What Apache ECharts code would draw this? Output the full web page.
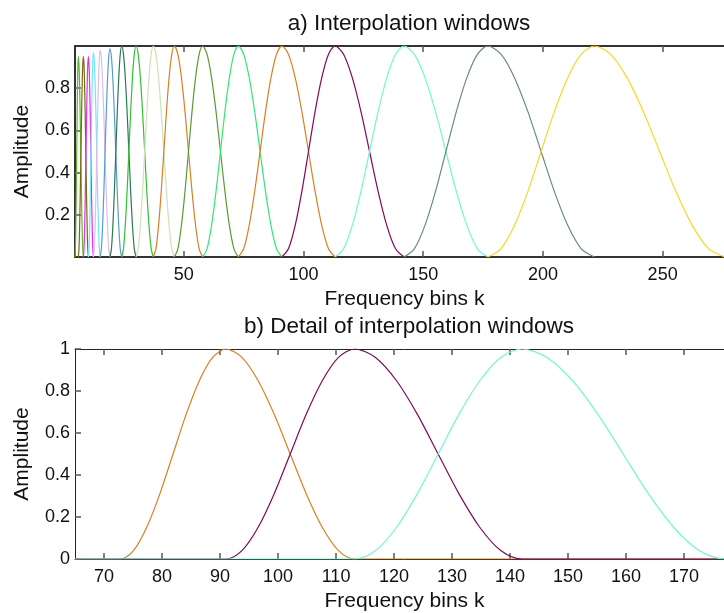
<!DOCTYPE html>
<html>
<head>
<meta charset="utf-8">
<script src="https://cdn.jsdelivr.net/npm/echarts@6/dist/echarts.min.js"></script>
<style>
  html, body { margin: 0; padding: 0; background: #fff; overflow: hidden; }
  /* the original plot is cropped on the right, so the chart is a little wider than the window */
  #chart { width: 734px; height: 613px; }
</style>
</head>
<body>
<div id="chart"></div>
<script>
// window edges: window i starts at edges[i], peaks at edges[i+1], ends at edges[i+2]
const windowEdges = [4.6, 6.0, 8.1, 10.2, 12.3, 15.1, 19.2, 24.1, 30.1, 37.3, 46.1, 57.9, 72.8, 91.0, 113.2, 142.0, 177.0, 221.5, 276.0];
// peak amplitude of each window (the first few are a bit under 1)
const windowPeaks = [0.95, 0.95, 0.95, 0.97, 0.98, 0.987, 1, 1, 1, 1, 1, 1, 1, 1, 1, 1, 1];
const windowColors = [
  "#5cb82e", "#7a6a10", "#e030f0", "#70e8f8", "#d8c0e8", "#5a9ad8",
  "#2a7a50", "#30c030", "#d0e0b8", "#d88020", "#5a9a30", "#30e870",
  "#d88020", "#800858", "#70f8d0", "#6a8a80", "#f8d820"
];
// amplitude along a rising half window, at even steps
const riseProfile = [0, 0.04, 0.15, 0.31, 0.5, 0.69, 0.85, 0.96, 1];
// windows shown in the detail panel (orange, maroon, aquamarine)
const detailWindows = [12, 13, 14];

const topXRange = [4.6, 279.8];
const detailXRange = [65, 178.6];
const topXTicks = [50, 100, 150, 200, 250];
const topYTicks = [0.2, 0.4, 0.6, 0.8];
const detailXTicks = [70, 80, 90, 100, 110, 120, 130, 140, 150, 160, 170];

function windowPoints(i) {
  const a = windowEdges[i], p = windowEdges[i + 1], b = windowEdges[i + 2];
  const h = windowPeaks[i];
  const n = riseProfile.length - 1;
  let pts = [];
  riseProfile.forEach((v, j) => {
    pts.push([a + (p - a) * j / n, v * h]);
  });
  for (let j = n - 1; j >= 0; j--) {
    pts.push([p + (b - p) * (n - j) / n, riseProfile[j] * h]);
  }
  return pts;
}

const font = "Liberation Sans, Arial, sans-serif";
const chart = echarts.init(document.getElementById("chart"), null, { renderer: "canvas" });

let series = [];
windowPeaks.forEach((h, i) => {
  series.push({
    type: "line",
    xAxisIndex: 0,
    yAxisIndex: 0,
    data: windowPoints(i),
    smooth: 0.3,
    showSymbol: false,
    lineStyle: { color: windowColors[i], width: 1.2 },
    z: 3
  });
});
detailWindows.forEach(i => {
  const pts = [[detailXRange[0], 0]].concat(windowPoints(i), [[detailXRange[1], 0]]);
  series.push({
    type: "line",
    xAxisIndex: 2,
    yAxisIndex: 1,
    data: pts,
    smooth: 0.3,
    showSymbol: false,
    lineStyle: { color: windowColors[i], width: 1.2 },
    z: 3
  });
});

function xAxisFor(gridIndex, range, ticks, pos, lineStyle, withLabels) {
  return {
    type: "value",
    gridIndex: gridIndex,
    position: pos,
    min: range[0],
    max: range[1],
    axisLine: { show: true, onZero: false, lineStyle: lineStyle },
    axisTick: { show: true, inside: true, length: 6, customValues: ticks, lineStyle: { color: "#555", width: 1.5 } },
    axisLabel: {
      show: withLabels,
      customValues: ticks,
      fontSize: 18,
      fontFamily: font,
      color: "#111",
      margin: 9
    },
    splitLine: { show: false },
    name: withLabels ? "Frequency bins k" : "",
    nameLocation: "middle",
    nameGap: 32,
    nameTextStyle: { fontSize: 21, fontFamily: font, color: "#111" }
  };
}

chart.setOption({
  animation: false,
  backgroundColor: "#fff",
  title: [
    {
      text: "a) Interpolation windows",
      left: 404,
      top: 7,
      textAlign: "center",
      textStyle: { fontSize: 22.5, fontWeight: "normal", fontFamily: font, color: "#111" }
    },
    {
      text: "b) Detail of interpolation windows",
      left: 404,
      top: 310,
      textAlign: "center",
      textStyle: { fontSize: 22.5, fontWeight: "normal", fontFamily: font, color: "#111" }
    }
  ],
  grid: [
    { left: 75, top: 46, width: 659, height: 211 },
    { left: 75, top: 349, width: 659, height: 210 }
  ],
  xAxis: [
    xAxisFor(0, topXRange, topXTicks, "bottom", { color: "#333", width: 2 }, true),
    xAxisFor(0, topXRange, topXTicks, "top", { color: "#333", width: 2 }, false),
    xAxisFor(1, detailXRange, detailXTicks, "bottom", { color: "#222", width: 1 }, true),
    xAxisFor(1, detailXRange, detailXTicks, "top", { color: "#222", width: 1 }, false)
  ],
  yAxis: [
    {
      type: "value",
      gridIndex: 0,
      min: 0,
      max: 1,
      axisLine: { show: true, lineStyle: { color: "#333", width: 2 } },
      axisTick: { show: true, inside: true, length: 6, customValues: topYTicks, lineStyle: { color: "#555", width: 1.5 } },
      axisLabel: { customValues: topYTicks, fontSize: 18, fontFamily: font, color: "#111", margin: 5 },
      splitLine: { show: false },
      name: "Amplitude",
      nameLocation: "middle",
      nameGap: 42,
      nameTextStyle: { fontSize: 21, fontFamily: font, color: "#111" }
    },
    {
      type: "value",
      gridIndex: 1,
      min: 0,
      max: 1,
      interval: 0.2,
      axisLine: { show: true, lineStyle: { color: "#222", width: 1 } },
      axisTick: { show: true, inside: true, length: 6, lineStyle: { color: "#555", width: 1.5 } },
      axisLabel: { fontSize: 18, fontFamily: font, color: "#111", margin: 5 },
      splitLine: { show: false },
      name: "Amplitude",
      nameLocation: "middle",
      nameGap: 42,
      nameTextStyle: { fontSize: 21, fontFamily: font, color: "#111" }
    }
  ],
  series: series
});
</script>
</body>
</html>
